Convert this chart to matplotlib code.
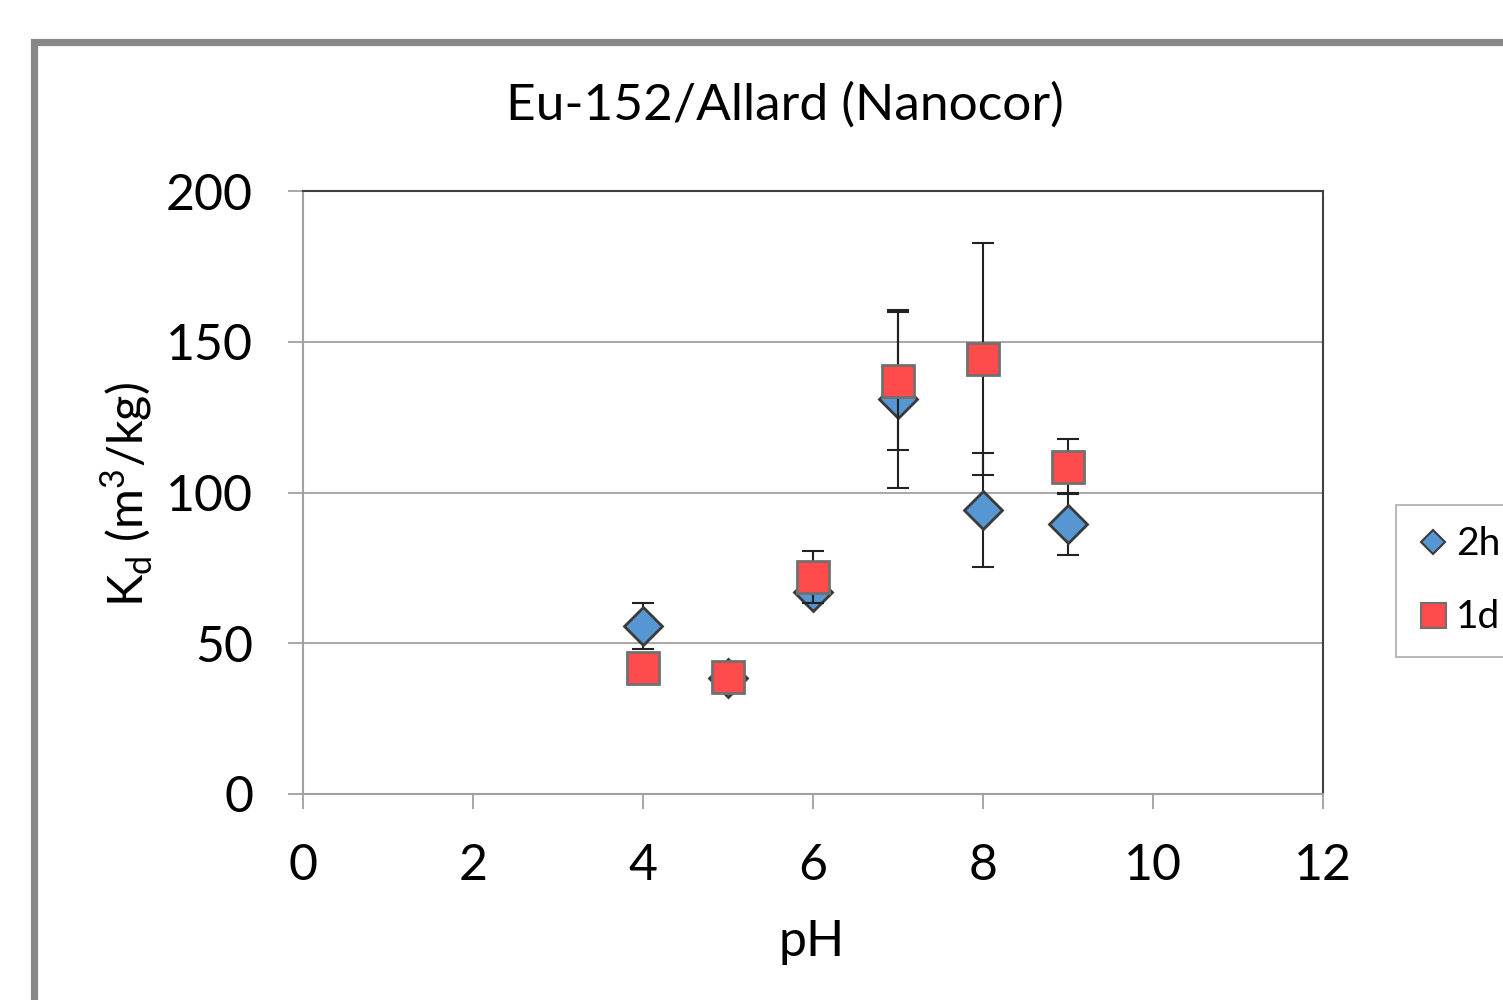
import matplotlib
matplotlib.use("Agg")
import matplotlib.pyplot as plt
from matplotlib.lines import Line2D
from matplotlib.patches import Rectangle

plt.rcParams['font.family'] = ['Lato', 'DejaVu Sans']

ph = [4, 5, 6, 7, 8, 9]
kd_2h = [55.7, 38.5, 67.0, 131.0, 94.2, 89.6]
err_2h = [7.5, 1.0, 1.5, 29.5, 19.0, 10.3]
kd_1d = [41.8, 38.8, 72.0, 137.0, 144.3, 108.6]
err_1d = [2.0, 1.0, 8.6, 23.0, 38.5, 9.1]

xticks = [0, 2, 4, 6, 8, 10, 12]
yticks = [0, 50, 100, 150, 200]
title = "Eu-152/Allard (Nanocor)"
xlabel = "pH"
ylabel = r"K$_\mathregular{d}$ (m$^\mathregular{3}$/kg)"
labels = ["2h", "1d"]

blue = "#5596D3"
red = "#FF4B4B"

fig = plt.figure(figsize=(15.03, 10.0), dpi=100)
ax = fig.add_axes([303/1503, 1-794/1000, (1323-303)/1503, (794-191)/1000])

# outer chart-area border
fig.patches.append(Rectangle((33.5/1503, -0.1), 1.2, 1-41.5/1000+0.1,
                             transform=fig.transFigure, fill=False,
                             edgecolor="#888888", linewidth=5.2, zorder=0))

for v in yticks[1:-1]:
    ax.axhline(v, color="#A0A0A0", linewidth=1.3, zorder=0)

ax.errorbar(ph, kd_2h, yerr=err_2h, fmt='none', ecolor='#222222',
            elinewidth=1.5, capsize=8, capthick=1.5, zorder=2)
ax.plot(ph, kd_2h, linestyle='none', marker='D', markersize=19,
        markerfacecolor=blue, markeredgecolor='#3A3A3A', markeredgewidth=2,
        zorder=3)
ax.errorbar(ph, kd_1d, yerr=err_1d, fmt='none', ecolor='#222222',
            elinewidth=1.5, capsize=8, capthick=1.5, zorder=4)
ax.plot(ph, kd_1d, linestyle='none', marker='s', markersize=23,
        markerfacecolor=red, markeredgecolor='#707070', markeredgewidth=2,
        zorder=5)

ax.set_xlim(0, 12)
ax.set_ylim(0, 200)
ax.set_xticks(xticks)
ax.set_yticks(yticks)
ax.tick_params(axis='both', direction='out', length=11, width=1.3,
               color='#A0A0A0', labelsize=36)
ax.tick_params(axis='x', pad=24)
ax.tick_params(axis='y', pad=25)

ax.spines['left'].set_color('#A0A0A0')
ax.spines['bottom'].set_color('#A0A0A0')
ax.spines['top'].set_color('#404040')
ax.spines['right'].set_color('#404040')
for s in ax.spines.values():
    s.set_linewidth(1.5)

fig.text(785/1503, 1-105/1000, title, fontsize=37, ha='center', va='center')
fig.text(812/1503, 1-942/1000, xlabel, fontsize=36, ha='center', va='center')
fig.text(127/1503, 1-495/1000, ylabel, fontsize=35, ha='center', va='center',
         rotation=90)

handles = [
    Line2D([], [], linestyle='none', marker='D', markersize=12,
           markerfacecolor=blue, markeredgecolor='#3A3A3A', markeredgewidth=1.5),
    Line2D([], [], linestyle='none', marker='s', markersize=18,
           markerfacecolor=red, markeredgecolor='#707070', markeredgewidth=1.5),
]
leg = fig.legend(handles, labels, loc='upper left',
                 bbox_to_anchor=(1396/1503, 1-505/1000), fontsize=28,
                 frameon=True, fancybox=False, edgecolor='#A0A0A0',
                 handlelength=0.8, handletextpad=0.2, labelspacing=0.95,
                 borderpad=0.55, borderaxespad=0)
leg.get_frame().set_linewidth(1.3)

fig.savefig("out.png", dpi=100, facecolor='white')
